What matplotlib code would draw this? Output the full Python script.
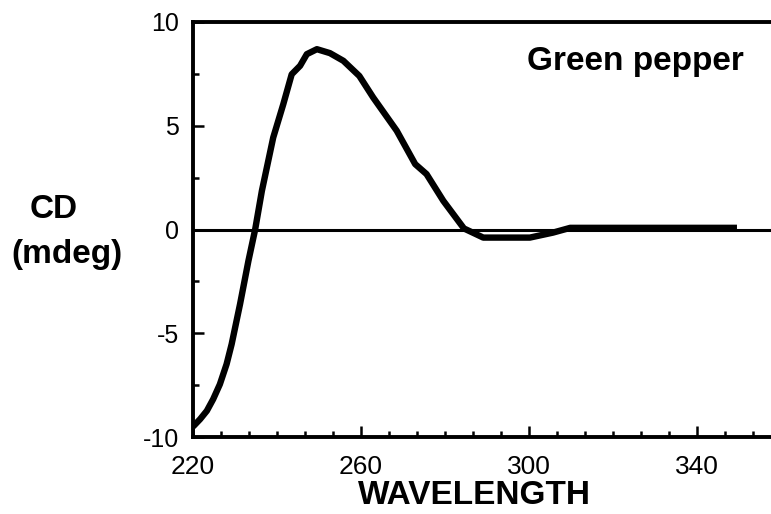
import matplotlib
matplotlib.use("Agg")
import matplotlib.pyplot as plt
from matplotlib.ticker import AutoMinorLocator

# CD spectrum
wavelength = [220, 221.7, 223.3, 224.8, 226.4, 228.0, 229.2, 231.2, 233.2, 234.8,
              236.4, 239.1, 241.5, 243.5, 245.5, 247.1, 249.5, 252.6, 255.8, 259.6,
              262.9, 268.5, 272.9, 275.6, 279.6, 284.5, 289.1, 300.2, 305.7, 309.8,
              349.5]
cd = [-9.5, -9.14, -8.74, -8.18, -7.46, -6.49, -5.53, -3.6, -1.51, 0.0,
      1.86, 4.43, 6.04, 7.48, 7.89, 8.45, 8.69, 8.5, 8.13, 7.4,
      6.36, 4.76, 3.15, 2.67, 1.38, 0.05, -0.39, -0.39, -0.15, 0.08,
      0.08]

xticks = [220, 260, 300, 340]
yticks = [-10, -5, 0, 5, 10]

plt.rcParams['font.family'] = ['Liberation Sans', 'DejaVu Sans']
plt.rcParams['axes.unicode_minus'] = False

fig = plt.figure(figsize=(7.71, 5.14), dpi=100)
ax = fig.add_axes([0.2503, 0.1498, 0.7497, 0.8074])

ax.axhline(0, color='black', lw=2.2, zorder=1)
ax.plot(wavelength, cd, color='black', lw=4.6, solid_joinstyle='round',
        solid_capstyle='butt', zorder=2)

ax.set_xlim(220, 357.6)
ax.set_ylim(-10, 10)
ax.set_xticks(xticks)
ax.set_yticks(yticks)
ax.xaxis.set_minor_locator(AutoMinorLocator(6))
ax.yaxis.set_minor_locator(AutoMinorLocator(2))

for s in ['left', 'bottom', 'top']:
    ax.spines[s].set_linewidth(2.8)
ax.spines['right'].set_visible(False)

ax.tick_params(which='both', direction='in', width=1.8, top=False, right=False)
ax.tick_params(which='major', length=8)
ax.tick_params(axis='x', which='major', pad=13, labelsize=19)
ax.tick_params(axis='y', which='major', pad=10, labelsize=18)
ax.tick_params(which='minor', length=4.5)

ax.text(0.765, 0.904, "Green pepper", transform=ax.transAxes, ha='center', va='center',
        fontsize=24, fontweight='bold')

fig.text(474 / 771, 1 - 495 / 514, "WAVELENGTH", ha='center', va='center',
         fontsize=24, fontweight='bold')
fig.text(54 / 771, 1 - 210 / 514, "CD", ha='center', va='center',
         fontsize=24, fontweight='bold')
fig.text(67 / 771, 1 - 255 / 514, "(mdeg)", ha='center', va='center',
         fontsize=24, fontweight='bold')

fig.savefig("out.png", dpi=100)
